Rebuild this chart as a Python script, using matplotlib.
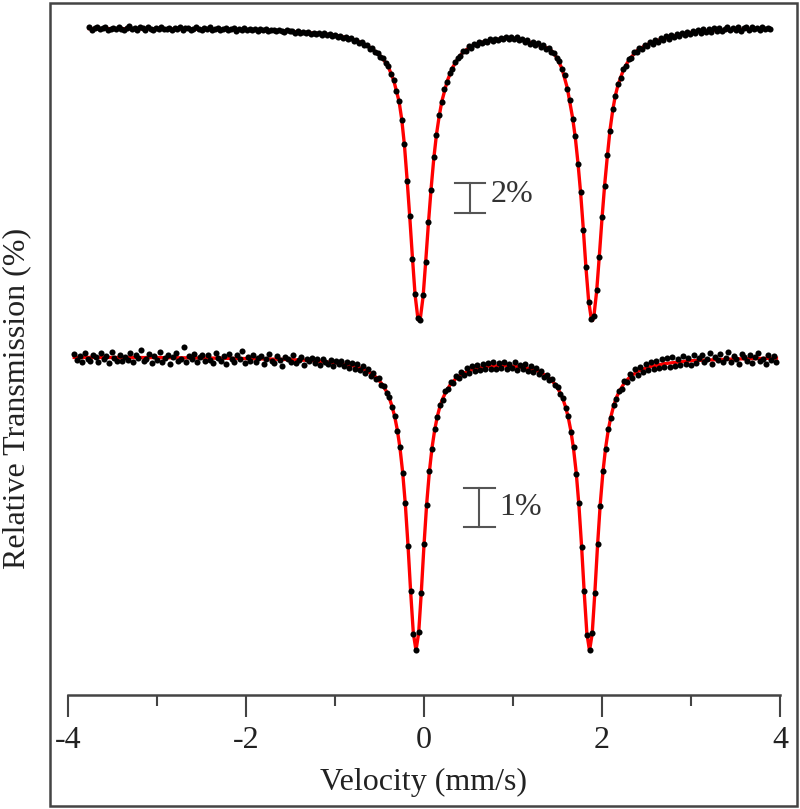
import numpy as np
import matplotlib
matplotlib.use("Agg")
from matplotlib import pyplot as plt
from matplotlib.patches import Rectangle

plt.rcParams['font.family'] = ['Liberation Serif', 'DejaVu Serif']
plt.rcParams['axes.unicode_minus'] = False

# velocity channels (mm/s), evenly spaced by the drive
top_v = np.linspace(-3.76, 3.89, 256)
bot_v = np.linspace(-3.93, 3.96, 264)

# measured points, relative transmission (%)
top_data = [
    100.05, 99.88, 99.97, 100.10, 99.91, 99.99, 100.06, 99.85, 99.95, 100.03,
    99.90, 100.08, 99.96, 99.87, 100.02, 100.11, 99.93, 99.98, 99.86, 100.04,
    99.97, 99.89, 100.07, 99.94, 99.84, 100.01, 99.96, 100.09, 99.90, 99.95,
    100.03, 99.86, 99.98, 99.92, 100.06, 99.88, 99.97, 100.02, 99.85, 99.93,
    100.04, 99.90, 99.87, 99.99, 99.94, 100.05, 99.84, 99.92, 99.98, 99.88,
    99.95, 100.02, 99.86, 99.91, 99.97, 99.83, 99.96, 99.89, 100.00, 99.85,
    99.92, 99.87, 99.95, 99.81, 99.90, 99.86, 99.93, 99.80, 99.88, 99.84,
    99.78, 99.87, 99.82, 99.76, 99.84, 99.79,
    99.82, 99.70, 99.79, 99.66, 99.75, 99.64, 99.73, 99.61, 99.70, 99.58,
    99.68, 99.55, 99.65, 99.52, 99.60, 99.47, 99.55, 99.41, 99.49, 99.36,
    99.42, 99.27, 99.34, 99.16, 99.21, 99.02, 99.07, 98.84, 98.88, 98.62,
    98.66, 98.38, 98.35, 98.08,
    97.98, 97.64, 97.45, 96.93, 96.55, 95.82, 95.16, 93.84, 92.27, 89.82,
    87.48, 84.62, 82.27, 80.66, 80.52, 82.18, 84.41, 87.08, 89.22, 91.38,
    92.84, 94.17, 95.04, 95.92, 96.39, 97.02, 97.29, 97.76,
    98.02, 98.11, 98.49, 98.47, 98.79, 98.70, 98.95, 98.85, 99.10, 98.97,
    99.16, 99.05, 99.24, 99.11, 99.30, 99.17, 99.36, 99.25, 99.43, 99.28,
    99.41, 99.24, 99.38, 99.18, 99.29, 99.08, 99.19, 98.96, 99.09, 98.86,
    98.97, 98.74, 98.84, 98.63, 98.69, 98.43, 98.36,
    98.00, 97.82, 97.24, 96.86, 95.93, 95.18, 93.92, 92.78, 90.91, 89.08,
    86.52, 84.09, 81.72, 80.63, 80.78, 82.53, 84.71, 87.38, 89.47, 91.52,
    93.13, 94.58, 95.44, 96.27, 96.69, 97.28, 97.49, 97.93, 98.03, 98.37, 98.41,
    98.66, 98.61, 98.89, 98.83, 99.07, 98.96, 99.20, 99.09, 99.33, 99.21,
    99.44, 99.30, 99.52, 99.38, 99.60, 99.46, 99.70, 99.53, 99.75, 99.60,
    99.81, 99.66, 99.88, 99.70, 99.92, 99.74, 99.95, 99.76, 99.97, 99.78,
    100.01, 99.80, 99.96, 100.06, 99.84, 99.99, 99.89, 100.08, 99.83, 99.97,
    100.04, 99.86, 100.10, 99.92, 99.99, 99.85, 100.07, 99.94, 100.02, 99.90,
]

bot_data = [
    100.08, 99.93, 100.02, 99.88, 100.11, 99.96, 99.90, 100.05, 99.99, 99.87,
    100.09, 99.94, 100.03, 99.85, 100.14, 99.97, 99.91, 100.06, 99.89, 100.01,
    99.93, 100.10, 99.86, 100.04, 99.98, 100.17, 99.90, 99.95, 100.07, 99.84,
    100.02, 99.92, 100.12, 99.88, 99.97, 100.05, 99.83, 100.00, 100.09, 99.91,
    99.96, 100.25, 99.87, 100.03, 99.94, 100.08, 99.86, 99.99, 100.04, 99.89,
    100.06, 99.93, 99.85, 100.10, 99.97, 99.90, 100.02, 99.82, 100.07, 99.95,
    99.88, 100.04, 99.96, 100.15, 99.84, 99.99, 99.91, 100.06, 99.87, 99.97,
    100.03, 99.81, 99.94, 100.08, 99.90, 99.85, 100.02, 99.93, 99.78, 99.99,
    99.96, 99.87, 100.05, 99.84, 99.92, 100.01, 99.80, 99.95, 99.89, 99.98,
    99.85, 99.94, 99.79, 99.96, 99.88, 99.83, 99.93, 99.77, 99.90, 99.82,
    99.91, 99.76, 99.88, 99.72, 99.84, 99.70, 99.81, 99.66, 99.76, 99.60,
    99.68, 99.52, 99.58, 99.44, 99.45, 99.29, 99.26, 99.07, 98.98, 98.71,
    98.50, 98.10, 97.70, 97.02, 96.26, 95.15, 94.01, 92.89,
    92.50, 92.95, 93.95, 95.21, 96.20, 97.08, 97.64, 98.16, 98.45, 98.77,
    98.90, 99.12, 99.17, 99.36, 99.34, 99.51, 99.46, 99.62, 99.54, 99.71,
    99.58, 99.76, 99.63, 99.80, 99.66, 99.83, 99.69, 99.85, 99.70, 99.87,
    99.68, 99.84, 99.72, 99.88, 99.69, 99.83, 99.71, 99.86, 99.67, 99.80,
    99.69, 99.81, 99.63, 99.76, 99.61, 99.72, 99.57, 99.64, 99.50, 99.55,
    99.41, 99.43, 99.27, 99.24, 99.05, 98.96, 98.70, 98.49, 98.08, 97.68,
    97.01, 96.25, 95.14, 94.00, 92.88,
    92.50, 92.93, 93.95, 95.20, 96.19, 97.07, 97.63, 98.15, 98.44, 98.77,
    98.92, 99.14, 99.19,
    99.38, 99.35, 99.56, 99.47, 99.68, 99.55, 99.75, 99.61, 99.82, 99.66,
    99.87, 99.70, 99.91, 99.72, 99.94, 99.75, 99.97, 99.74, 99.99, 99.78,
    99.95, 99.80, 100.02, 99.83, 99.97, 99.79, 100.04, 99.85,
    99.98, 100.06, 99.87, 99.95, 100.10, 99.83, 100.01, 99.92, 100.07, 99.88,
    99.97, 100.13, 99.86, 100.03, 99.94, 99.81, 100.08, 99.99, 99.90, 100.05,
    99.84, 100.00, 100.11, 99.89, 99.96, 99.82, 100.06, 99.93, 100.02, 99.87,
]

# fitted curves (red)
top_fit_v = [-3.76, -3.0, -2.5, -2.0, -1.5, -1.2, -1.0, -0.85, -0.7, -0.61,
             -0.52, -0.46, -0.40, -0.34, -0.28, -0.25, -0.22, -0.19, -0.16, -0.13,
             -0.10, -0.07, -0.055, -0.04, -0.01, 0.02, 0.05, 0.08, 0.11, 0.14,
             0.17, 0.20, 0.26, 0.32, 0.38, 0.44, 0.53, 0.65, 0.80, 0.95,
             1.10, 1.25, 1.37, 1.43, 1.49, 1.55, 1.61, 1.67, 1.70, 1.73,
             1.76, 1.79, 1.82, 1.85, 1.88, 1.895, 1.91, 1.94, 1.97, 2.00,
             2.03, 2.06, 2.09, 2.12, 2.15, 2.18, 2.24, 2.30, 2.39, 2.50,
             2.65, 2.78, 2.90, 3.00, 3.13, 3.50, 3.89]
top_fit_T = [99.96, 99.94, 99.91, 99.87, 99.77, 99.64, 99.52, 99.33, 99.02, 98.72,
             98.30, 97.95, 97.40, 96.50, 95.10, 93.90, 92.20, 89.90, 87.40, 84.70,
             82.20, 80.70, 80.50, 80.70, 82.10, 84.50, 87.00, 89.30, 91.30, 92.90,
             94.10, 95.10, 96.45, 97.35, 97.95, 98.40, 98.78, 99.04, 99.21, 99.35,
             99.20, 98.94, 98.70, 98.50, 98.05, 97.30, 96.00, 94.00, 92.70, 91.00,
             89.00, 86.60, 84.00, 81.80, 80.60, 80.50, 80.85, 82.45, 84.80, 87.30,
             89.55, 91.45, 93.20, 94.50, 95.50, 96.20, 97.20, 97.85, 98.48, 98.88,
             99.22, 99.43, 99.59, 99.70, 99.80, 99.90, 99.95]

bot_fit_v = [-3.93, -3.0, -2.5, -2.0, -1.6, -1.3, -1.0, -0.81, -0.69, -0.60,
             -0.54, -0.48, -0.42, -0.39, -0.36, -0.33, -0.30, -0.27, -0.24, -0.21,
             -0.18, -0.15, -0.12, -0.09, -0.06, -0.03, 0.00, 0.03, 0.06, 0.09,
             0.12, 0.15, 0.18, 0.21, 0.24, 0.30, 0.36, 0.45, 0.57, 0.72,
             0.87, 1.02, 1.17, 1.29, 1.38, 1.44, 1.50, 1.53, 1.56, 1.59,
             1.62, 1.65, 1.68, 1.71, 1.74, 1.77, 1.80, 1.83, 1.86, 1.89,
             1.92, 1.95, 1.98, 2.01, 2.04, 2.07, 2.10, 2.13, 2.16, 2.19,
             2.25, 2.31, 2.40, 2.52, 2.70, 3.00, 3.50, 3.96]
bot_fit_T = [99.99, 99.985, 99.975, 99.96, 99.94, 99.915, 99.855, 99.78, 99.70, 99.59,
             99.485, 99.33, 99.11, 98.95, 98.74, 98.48, 98.13, 97.67, 97.05, 96.23,
             95.18, 93.98, 92.92, 92.48, 92.92, 93.98, 95.18, 96.23, 97.05, 97.67,
             98.13, 98.48, 98.74, 98.93, 99.08, 99.31, 99.45, 99.59, 99.70, 99.76,
             99.78, 99.76, 99.71, 99.63, 99.51, 99.39, 99.21, 99.08, 98.93, 98.72,
             98.46, 98.11, 97.65, 97.04, 96.22, 95.17, 93.97, 92.91, 92.47, 92.91,
             93.97, 95.17, 96.22, 97.04, 97.66, 98.12, 98.47, 98.74, 98.95, 99.10,
             99.33, 99.48, 99.63, 99.74, 99.83, 99.905, 99.95, 99.97]

# stacking: baseline height and height of 1 % transmission for each spectrum
top_base, top_scale = 667, 15.0
bot_base, bot_scale = 338, 39.0


def place(T, base, scale):
    return base + (np.asarray(T) - 100.0) * scale


fig = plt.figure(figsize=(8, 8.09), dpi=100)
ax = fig.add_axes([68/800, 114/809, 712/800, 695/809])

for fv, fT, v, d, base, sc in [(top_fit_v, top_fit_T, top_v, top_data, top_base, top_scale),
                               (bot_fit_v, bot_fit_T, bot_v, bot_data, bot_base, bot_scale)]:
    ax.plot(fv, place(fT, base, sc), color='red', lw=2.4, zorder=2)
    ax.plot(v, place(d, base, sc), 'o', color='black', ms=4.4, mew=0, zorder=3)

# scale bars
bar_col = '#555555'
y0 = 482
ax.plot([0.52, 0.52], [y0, y0 + 2 * top_scale], color=bar_col, lw=1.5)
ax.plot([0.35, 0.685], [y0, y0], color=bar_col, lw=1.5)
ax.plot([0.35, 0.685], [y0 + 2 * top_scale] * 2, color=bar_col, lw=1.5)
ax.text(0.75, y0 + top_scale + 3, '2%', ha='left', va='center', size=23, color='#333333')

y1 = 168
ax.plot([0.62, 0.62], [y1, y1 + bot_scale], color=bar_col, lw=1.5)
ax.plot([0.45, 0.80], [y1, y1], color=bar_col, lw=1.5)
ax.plot([0.45, 0.80], [y1 + bot_scale] * 2, color=bar_col, lw=1.5)
ax.text(0.84, y1 + bot_scale / 2, '1%', ha='left', va='center', size=23, color='#333333')

ax.set_xlim(-4, 4)
ax.set_ylim(0, 695)
for s in ['left', 'right', 'top']:
    ax.spines[s].set_visible(False)
ax.spines['bottom'].set_color('#444444')
ax.spines['bottom'].set_linewidth(1.8)
ax.set_yticks([])
ax.set_xticks([-4, -2, 0, 2, 4])
ax.set_xticklabels(['-4', '-2', '0', '2', '4'])
ax.set_xticks([-3, -1, 1, 3], minor=True)
ax.tick_params(which='major', direction='out', length=16, width=1.5, color='#444444',
               labelsize=23, pad=6, labelcolor='#222222')
ax.tick_params(which='minor', direction='out', length=8, width=1.5, color='#444444')
ax.set_xlabel('Velocity (mm/s)', size=23, color='#222222')
ax.xaxis.set_label_coords(0.5, -0.105)

fig.text(17/800, 1 - 398/809, 'Relative Transmission (%)', rotation=90,
         ha='center', va='center', size=23, color='#222222')
fig.add_artist(Rectangle((50/800, 3/809), 747/800, 803/809, transform=fig.transFigure,
                         fill=False, ec='#444444', lw=1.8))

fig.savefig('out.png', dpi=100)
